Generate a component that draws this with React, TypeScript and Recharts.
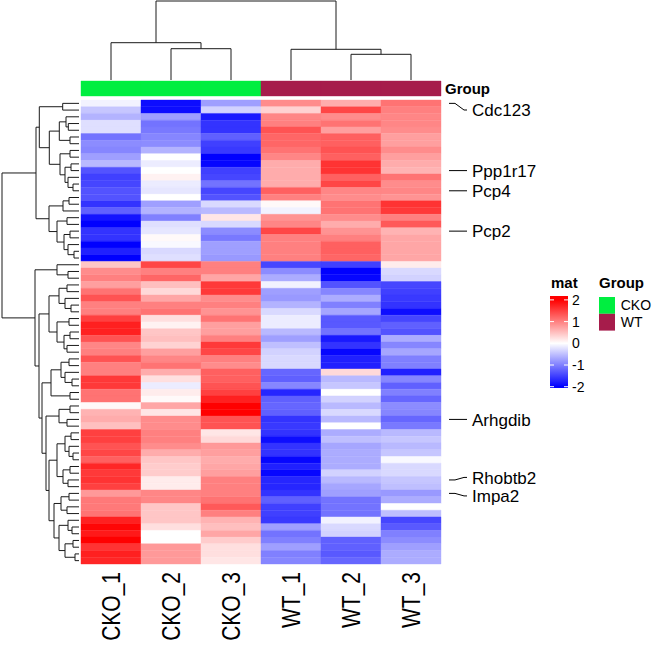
import React from 'react';
import { ComposedChart, XAxis, YAxis, ReferenceArea, ReferenceLine, Legend } from 'recharts';

const FONT = '"Liberation Sans", Arial, Helvetica, sans-serif';

// samples (columns) and their group
const samples = ['CKO_1', 'CKO_2', 'CKO_3', 'WT_1', 'WT_2', 'WT_3'];
const sampleGroup = ['CKO', 'CKO', 'CKO', 'WT', 'WT', 'WT'];
const groupNames = ['CKO', 'WT'];
const groupColors = ['#00EE40', '#A61C4B'];

// row z-scores, one array per sample, rows in dendrogram order
const cko1 = [
  -0.1, -0.45, -0.6, -0.25, -0.25, -1.1, -0.9, -0.95, -0.75, -0.55, -1.35, -1.5, -1.45, -1.35, -1.35, -1.6, -1.25, -1.85, -2.0, -1.6, -1.6, -2.0, -1.75, -2.0,
  0.45, 0.9, 1.0, 0.75, 1.1, 1.35, 1.0, 1.0, 1.5, 1.75, 1.75, 1.35, 0.95, 1.0, 1.35, 1.0, 1.0, 1.55, 1.55, 1.1, 1.1,
  0.05, 0.6, 0.65, 0.5, 1.5, 1.5, 1.35, 1.45, 1.25, 1.7, 1.55, 1.6, 1.5, 0.8, 1.05, 1.05, 1.1, 1.75, 1.95, 1.8, 2.0, 1.6, 1.75, 1.7,
];
const cko2 = [
  -1.9, -1.9, -0.75, -1.1, -1.05, -0.95, -0.9, -0.6, 0.0, -0.15, 0.0, 0.1, -0.15, -0.2, 0.0, -0.75, -0.6, -1.0, -0.25, -0.2, 0.05, -0.05, -0.3, -0.25,
  1.45, 1.0, 1.2, 0.5, 0.3, 0.7, 1.0, 1.1, 0.25, 0.1, 0.45, 0.5, 0.35, 0.75, 0.95, 1.1, 0.65, 0.25, -0.15, 0.15, 0.05,
  0.7, 0.2, 0.9, 0.9, 1.0, 1.0, 0.9, 0.65, 0.45, 0.4, 0.4, 0.15, 0.15, 0.95, 0.95, 0.45, 0.45, 0.45, 0.25, 0.0, 0.0, 0.8, 0.8, 0.8,
];
const cko3 = [
  -0.75, -0.35, -1.8, -1.6, -1.6, -1.25, -1.5, -1.55, -2.0, -1.95, -1.5, -1.45, -1.1, -1.45, -1.35, -0.3, -0.55, 0.2, -0.3, -0.9, -1.05, -0.75, -0.75, -0.8,
  1.0, 1.0, 0.7, 1.55, 1.55, 0.9, 1.0, 0.85, 1.1, 0.75, 0.75, 1.0, 1.55, 1.45, 1.0, 0.9, 1.25, 1.25, 1.35, 1.5, 1.75,
  2.0, 2.0, 1.35, 1.35, 0.2, 0.3, 0.8, 0.75, 0.65, 0.7, 0.75, 1.0, 1.0, 1.0, 1.1, 1.3, 1.0, 0.6, 0.5, 0.7, 0.4, 0.25, 0.25, 0.2,
];
const wt1 = [
  0.9, 0.35, 0.95, 1.0, 1.35, 1.2, 1.2, 1.1, 0.95, 0.65, 0.65, 0.65, 0.65, 1.25, 1.0, 0.05, -0.1, 0.85, 0.95, 1.45, 1.0, 1.0, 1.0, 1.0,
  -1.45, -0.9, -0.65, -0.1, -0.75, -0.8, -0.6, -0.3, -0.15, -0.15, -0.55, -0.75, -0.5, -0.35, -0.3, -0.3, -1.2, -1.25, -0.95, -1.7, -1.25,
  -1.2, -1.25, -1.6, -1.55, -1.6, -1.9, -1.6, -1.6, -1.95, -1.75, -1.95, -1.7, -1.7, -1.6, -1.25, -1.5, -1.5, -1.55, -0.75, -1.1, -1.0, -0.75, -1.0, -0.95,
];
const wt2 = [
  0.65, 1.45, 0.9, 1.1, 0.75, 1.25, 1.25, 1.35, 1.25, 1.6, 1.6, 1.25, 1.45, 0.95, 0.9, 1.1, 1.1, 0.9, 0.65, 0.85, 1.0, 1.25, 1.25, 1.2,
  -1.5, -2.0, -1.95, -1.35, -0.95, -0.65, -1.0, -0.7, -1.3, -1.3, -1.1, -1.8, -1.6, -1.95, -1.75, -1.75, 0.3, -0.55, -0.45, 0.0, -0.35,
  -0.55, -0.3, -0.55, 0.0, -0.65, -0.5, -0.7, -0.65, -0.65, -0.65, -0.35, -0.55, -0.7, -0.75, -1.1, -1.1, -1.1, -0.1, -0.3, -0.35, -1.25, -1.25, -1.3, -1.2,
];
const wt3 = [
  1.1, 1.0, 0.95, 0.95, 0.9, 0.75, 0.75, 0.9, 0.75, 0.65, 0.6, 1.1, 0.9, 0.95, 0.85, 1.6, 1.55, 1.0, 1.3, 0.6, 0.7, 0.7, 0.7, 0.7,
  0.15, -0.3, -0.35, -1.45, -1.5, -1.55, -1.6, -1.9, -1.45, -1.25, -1.35, -0.65, -0.95, -0.7, -1.0, -1.0, -1.75, -0.95, -1.25, -1.0, -1.2,
  -0.9, -0.95, -1.2, -1.05, -0.55, -0.45, -0.55, -0.45, -0.05, -0.3, -0.3, -0.45, -0.5, -0.8, -0.65, 0.0, -0.5, -1.45, -1.3, -1.0, -0.9, -0.75, -0.65, -0.65,
];
const matrix = [cko1, cko2, cko3, wt1, wt2, wt3];

// marked genes and the row each one sits on
const geneLabels = ['Cdc123', 'Ppp1r17', 'Pcp4', 'Pcp2', 'Arhgdib', 'Rhobtb2', 'Impa2'];
const geneRows = [0, 10, 13, 19, 47, 56, 58];

// dendrograms: leaf = row/column index, node = [height, left, right]
type Tree = number | [number, Tree, Tree];

const colTree: Tree = [79, [37.3, 0, [31.3, 1, 2]], [30.7, 3, [25.7, 4, 5]]];

const rowTreeUp: Tree = [43,
  [39.7,
    [16.3, 0, 1],
    [29.7,
      [19.7, [13, 2, [10.7, 3, 4]], [9, 5, 6]],
      [19, [9, 7, 8], [14, [8, 9, 10], [11, 11, [6, 12, 13]]]]]],
  [30,
    [16, [10, 14, 15], 16],
    [22, [12, 17, 18], [15, [9, 19, 20], [11, 21, [5, 22, 23]]]]]];

const rowTreeDown: Tree = [44,
  [22, 24, [11, 25, 26]],
  [40,
    [30,
      [20, [12, 27, 28], [14, 29, [8, 30, 31]]],
      [22, [10, 32, 33], [15, [9, 34, 35], [12, 36, 37]]]],
    [37,
      [28, [18, [10, 38, 39], [14, 40, [7, 41, 42]]], [9, 43, 44]],
      [33,
        [20, [9, 45, 46], [12, 47, 48]],
        [30,
          [22, [14, [8, 49, 50], [10, 51, [6, 52, 53]]], [16, [9, 54, 55], [11, 56, 57]]],
          [25, [18, [10, 58, 59], [12, 60, 61]], [20, [11, 62, [7, 63, 64]], [14, [6, 65, 66], [4, 67, 68]]]]]]]]];

const rowTree: Tree = [77, rowTreeUp, rowTreeDown];

const legendTicks = [2, 1, 0, -1, -2];

// page layout
const W = 654;
const H = 649;
const ANNO_TOP = 81;
const ANNO_BOTTOM = 96;
const HM_TOP = 100;
const HM_BOTTOM = 564;
const HM_LEFT = 81;
const HM_RIGHT = 441;
const N_ROWS = cko1.length;
const ROW_PX = (HM_BOTTOM - HM_TOP) / N_ROWS;
const Y_MIN = -(HM_TOP - ANNO_TOP) / ROW_PX;
const ANNO_END = -(HM_TOP - ANNO_BOTTOM) / ROW_PX;
const LABEL_H = 18.5;

function zColor(v: number) {
  const t = Math.max(-2, Math.min(2, v)) / 2;
  if (t >= 0) {
    const c = Math.round(255 * (1 - t));
    return `rgb(255,${c},${c})`;
  }
  const c = Math.round(255 * (1 + t));
  return `rgb(${c},${c},255)`;
}

type Seg = { p1: number; h1: number; p2: number; h2: number };

function layoutTree(node: Tree, segs: Seg[]): { pos: number; h: number } {
  if (typeof node === 'number') return { pos: node + 0.5, h: 0 };
  const [h, l, r] = node;
  const a = layoutTree(l, segs);
  const b = layoutTree(r, segs);
  segs.push({ p1: a.pos, h1: a.h, p2: a.pos, h2: h });
  segs.push({ p1: b.pos, h1: b.h, p2: b.pos, h2: h });
  segs.push({ p1: a.pos, h1: h, p2: b.pos, h2: h });
  return { pos: (a.pos + b.pos) / 2, h };
}

const rowSegs: Seg[] = [];
layoutTree(rowTree, rowSegs);
const colSegs: Seg[] = [];
layoutTree(colTree, colSegs);

// labels are kept inside the heatmap and pushed apart when they collide
const geneLabelRows = (() => {
  const pos = geneRows.map((r) => r + 0.5);
  const gap = LABEL_H / ROW_PX;
  pos[0] = Math.max(pos[0], 10 / ROW_PX);
  for (let i = 1; i < pos.length; i++) {
    const d = pos[i] - pos[i - 1];
    if (d < gap) {
      const s = (gap - d) / 2;
      pos[i - 1] -= s;
      pos[i] += s;
    }
  }
  return pos;
})();

function SampleTick(props: any) {
  const { x, y, payload } = props;
  const name = samples[Math.round(payload.value - 0.5)];
  return (
    <text
      transform={`translate(${x},${y}) rotate(-90) scale(1,1.2)`}
      textAnchor="end"
      dominantBaseline="central"
      fontSize={21}
      fontFamily={FONT}
      fill="#000"
    >
      {name}
    </text>
  );
}

function GeneTick(props: any) {
  const { y, payload } = props;
  const idx = geneRows.findIndex((r) => r + 0.5 === payload.value);
  if (idx < 0) return null;
  const ly = y + (geneLabelRows[idx] - (geneRows[idx] + 0.5)) * ROW_PX;
  const x0 = HM_RIGHT + 8;
  return (
    <g>
      <path
        d={`M${x0},${y} L${x0 + 6},${y} L${x0 + 15},${ly} L${x0 + 18},${ly}`}
        stroke="#000"
        strokeWidth={1}
        fill="none"
      />
      <text x={x0 + 23} y={ly} dy="0.36em" fontSize={17} fontFamily={FONT} fill="#000">
        {geneLabels[idx]}
      </text>
    </g>
  );
}

function HeatLegend() {
  const oy = 270;
  const barTop = 296 - oy;
  const barH = 92;
  const zeroY = 343.3 - oy;
  const unit = 21.7;
  const stops = [2.2, 2, 1.5, 1, 0.5, 0, -0.5, -1, -1.5, -2, -2.1];
  return (
    <svg width={110} height={125} style={{ overflow: 'visible', fontFamily: FONT }}>
      <defs>
        <linearGradient id="matGrad" x1="0" y1="0" x2="0" y2="1">
          {stops.map((v) => (
            <stop key={v} offset={(zeroY - unit * v - barTop) / barH} stopColor={zColor(v)} />
          ))}
        </linearGradient>
      </defs>
      <text x={6} y={13} dy="0.36em" fontSize={15} fontWeight="bold" fill="#000">mat</text>
      <rect x={5} y={barTop} width={18} height={barH} fill="url(#matGrad)" />
      {legendTicks.map((v) => {
        const ty = zeroY - unit * v;
        return (
          <g key={v}>
            <line x1={5} x2={9} y1={ty} y2={ty} stroke="#fff" strokeWidth={1} />
            <line x1={19} x2={23} y1={ty} y2={ty} stroke="#fff" strokeWidth={1} />
            <text x={27} y={ty} dy="0.36em" fontSize={14} fill="#000">{v}</text>
          </g>
        );
      })}
      <text x={54} y={13} dy="0.36em" fontSize={15} fontWeight="bold" fill="#000">Group</text>
      {groupNames.map((g, i) => (
        <g key={g}>
          <rect x={54} y={27 + i * 16.8} width={16} height={16.8} fill={groupColors[i]} />
          <text x={75.7} y={35.4 + i * 16.8} dy="0.36em" fontSize={14} fill="#000">{g}</text>
        </g>
      ))}
    </svg>
  );
}

export default function App() {
  const cells = [];
  for (let c = 0; c < matrix.length; c++) {
    for (let r = 0; r < N_ROWS; r++) {
      const fill = zColor(matrix[c][r]);
      cells.push(
        <ReferenceArea
          key={`c${c}r${r}`}
          x1={c}
          x2={c + 1}
          y1={r}
          y2={r + 1}
          fill={fill}
          fillOpacity={1}
          stroke={fill}
          strokeWidth={0.4}
          ifOverflow="visible"
        />,
      );
    }
  }

  return (
    <div style={{ position: 'absolute', left: 0, top: 0, width: W, height: H, background: '#fff' }}>
      {/* row dendrogram */}
      <div style={{ position: 'absolute', left: 0, top: 0 }}>
        <ComposedChart width={79} height={H} margin={{ top: ANNO_TOP, right: 0, bottom: H - HM_BOTTOM, left: 0 }}>
          <XAxis type="number" dataKey="h" domain={[0, 79]} reversed hide allowDataOverflow />
          <YAxis type="number" dataKey="p" domain={[Y_MIN, N_ROWS]} reversed hide allowDataOverflow />
          {rowSegs.map((s, i) => (
            <ReferenceLine
              key={i}
              segment={[{ x: s.h1, y: s.p1 }, { x: s.h2, y: s.p2 }]}
              stroke="#1a1a1a"
              strokeWidth={1}
              ifOverflow="visible"
            />
          ))}
        </ComposedChart>
      </div>

      {/* column dendrogram */}
      <div style={{ position: 'absolute', left: 0, top: 0 }}>
        <ComposedChart width={W} height={ANNO_TOP} margin={{ top: 1, right: W - HM_RIGHT, bottom: 1, left: HM_LEFT }}>
          <XAxis type="number" dataKey="p" domain={[0, samples.length]} hide allowDataOverflow />
          <YAxis type="number" dataKey="h" domain={[0, 79]} hide allowDataOverflow />
          {colSegs.map((s, i) => (
            <ReferenceLine
              key={i}
              segment={[{ x: s.p1, y: s.h1 }, { x: s.p2, y: s.h2 }]}
              stroke="#1a1a1a"
              strokeWidth={1}
              ifOverflow="visible"
            />
          ))}
        </ComposedChart>
      </div>

      {/* heatmap, group bar, labels and legends */}
      <div style={{ position: 'absolute', left: 0, top: 0 }}>
        <ComposedChart width={W} height={H} margin={{ top: ANNO_TOP, right: 0, bottom: 0, left: HM_LEFT }}>
          <XAxis
            type="number"
            dataKey="c"
            domain={[0, samples.length]}
            ticks={samples.map((_, i) => i + 0.5)}
            interval={0}
            height={H - HM_BOTTOM}
            axisLine={false}
            tickLine={false}
            tickSize={0}
            tickMargin={8}
            tick={<SampleTick />}
            allowDataOverflow
          />
          <YAxis
            type="number"
            dataKey="r"
            orientation="right"
            domain={[Y_MIN, N_ROWS]}
            reversed
            ticks={geneRows.map((r) => r + 0.5)}
            interval={0}
            width={W - HM_RIGHT}
            axisLine={false}
            tickLine={false}
            tick={<GeneTick />}
            allowDataOverflow
          />
          {cells}
          {samples.map((s, i) => {
            const g = groupNames.indexOf(sampleGroup[i]);
            return (
              <ReferenceArea
                key={s}
                x1={i}
                x2={i + 1}
                y1={Y_MIN}
                y2={ANNO_END}
                fill={groupColors[g]}
                fillOpacity={1}
                stroke={groupColors[g]}
                strokeWidth={0.4}
                ifOverflow="visible"
                label={
                  i === samples.length - 1
                    ? { value: 'Group', position: 'right', offset: 4, fontSize: 15, fontWeight: 'bold', fill: '#000', fontFamily: FONT }
                    : undefined
                }
              />
            );
          })}
          <Legend
            layout="vertical"
            align="center"
            verticalAlign="middle"
            content={<HeatLegend />}
            wrapperStyle={{ position: 'absolute', left: 545, top: 270, width: 110, height: 125 }}
          />
        </ComposedChart>
      </div>
    </div>
  );
}
